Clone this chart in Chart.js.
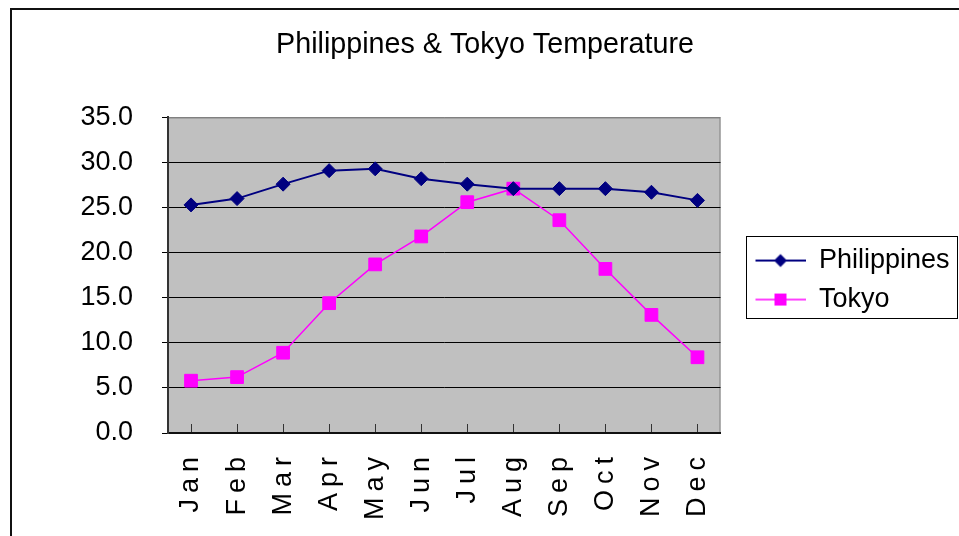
<!DOCTYPE html>
<html>
<head>
<meta charset="utf-8">
<title>Philippines & Tokyo Temperature</title>
<script src="https://cdn.jsdelivr.net/npm/chart.js@4.4.1/dist/chart.umd.min.js"></script>
<style>
    body { margin: 0; background: #fff; overflow: hidden; }
    #frame { position: absolute; left: 10px; top: 8px; width: 1000px; height: 600px; border: 2px solid #111; }
    #wrap { position: absolute; left: 0; top: 0; width: 959px; height: 536px; }
</style>
</head>
<body>
<div id="frame"></div>
<div id="wrap"><canvas id="temp-chart"></canvas></div>
<script>
// Chart data
const months = ['Jan', 'Feb', 'Mar', 'Apr', 'May', 'Jun', 'Jul', 'Aug', 'Sep', 'Oct', 'Nov', 'Dec'];
const philippinesTemps = [25.3, 26.0, 27.6, 29.1, 29.3, 28.2, 27.6, 27.1, 27.1, 27.1, 26.7, 25.8];
const tokyoTemps = [5.8, 6.2, 8.9, 14.4, 18.7, 21.8, 25.6, 27.1, 23.6, 18.2, 13.1, 8.4];
const yTicks = [0, 5, 10, 15, 20, 25, 30, 35];

const FONT = '"Liberation Sans", Arial, sans-serif';

// Category axis that draws its labels with letter spacing (Excel vertical text look)
class SpacedCategoryScale extends Chart.CategoryScale {
    drawLabels(chartArea) {
        this.ctx.save();
        this.ctx.letterSpacing = '6px';
        super.drawLabels(chartArea);
        this.ctx.restore();
    }
}
SpacedCategoryScale.id = 'spacedCategory';
SpacedCategoryScale.defaults = Chart.CategoryScale.defaults;
Chart.register(SpacedCategoryScale);

// Legend icons: line with marker in the middle
function makeLegendIcon(color, marker, lineWidth) {
    const c = document.createElement('canvas');
    c.width = 73;
    c.height = 18;
    const ctx = c.getContext('2d');
    ctx.strokeStyle = color;
    ctx.lineWidth = lineWidth;
    ctx.beginPath();
    ctx.moveTo(23, 9);
    ctx.lineTo(73, 9);
    ctx.stroke();
    ctx.fillStyle = color;
    if (marker === 'diamond') {
        ctx.beginPath();
        ctx.moveTo(48, 2.5);
        ctx.lineTo(54.5, 9);
        ctx.lineTo(48, 15.5);
        ctx.lineTo(41.5, 9);
        ctx.closePath();
        ctx.fill();
    } else {
        ctx.fillRect(42, 3, 12, 12);
    }
    return c;
}
const legendIcons = [
    makeLegendIcon('#000080', 'diamond', 2),
    makeLegendIcon('#FF00FF', 'square', 1.5)
];

// Grey plot area with a grey frame, and a box round the legend
const plotAreaPlugin = {
    id: 'plotArea',
    beforeDraw(chart) {
        const {ctx, chartArea: a} = chart;
        ctx.save();
        ctx.fillStyle = '#C0C0C0';
        ctx.fillRect(a.left, a.top, a.right - a.left, a.bottom - a.top);
        ctx.strokeStyle = '#808080';
        ctx.lineWidth = 1;
        ctx.strokeRect(a.left + 0.5, a.top + 0.5, a.right - a.left - 1, a.bottom - a.top - 1);
        ctx.restore();
    },
    afterDraw(chart) {
        const boxes = chart.legend.legendHitBoxes;
        if (!boxes || !boxes.length) return;
        const ctx = chart.ctx;
        const left = boxes[0].left + 13;
        const right = left + 211;
        const top = boxes[0].top - 11;
        const last = boxes[boxes.length - 1];
        const bottom = last.top + last.height + 5;
        ctx.save();
        ctx.strokeStyle = '#000';
        ctx.lineWidth = 1;
        ctx.strokeRect(Math.round(left) + 0.5, Math.round(top) + 0.5, Math.round(right - left), Math.round(bottom - top));
        ctx.restore();
    }
};

new Chart(document.getElementById('temp-chart'), {
    type: 'line',
    data: {
        labels: months,
        datasets: [{
            label: 'Philippines',
            data: philippinesTemps,
            borderColor: '#000080',
            backgroundColor: '#000080',
            borderWidth: 2,
            pointStyle: 'rectRot',
            pointRadius: 7,
            pointHoverRadius: 7,
            pointBorderWidth: 1,
            tension: 0
        }, {
            label: 'Tokyo',
            data: tokyoTemps,
            borderColor: '#FF00FF',
            backgroundColor: '#FF00FF',
            borderWidth: 1.5,
            pointStyle: 'rect',
            pointRadius: 9,
            pointHoverRadius: 9,
            pointBorderWidth: 1,
            tension: 0
        }]
    },
    options: {
        responsive: true,
        maintainAspectRatio: false,
        animation: false,
        layout: {
            padding: { left: 14, right: 3, top: 0, bottom: 0 }
        },
        scales: {
            x: {
                type: 'spacedCategory',
                offset: true,
                grid: {
                    display: true,
                    drawOnChartArea: false,
                    drawTicks: true,
                    tickLength: -9,
                    color: '#333'
                },
                border: { display: true, color: '#111', width: 2 },
                ticks: {
                    color: '#000',
                    font: { family: FONT, size: 27 },
                    minRotation: 90,
                    maxRotation: 90,
                    autoSkip: false,
                    padding: 27
                },
                afterFit(scale) {
                    scale.height = 103;
                }
            },
            y: {
                min: 0,
                max: 35,
                afterBuildTicks(scale) {
                    scale.ticks = yTicks.map(v => ({ value: v }));
                },
                grid: {
                    color: ctx => (ctx.tick && ctx.tick.value === 35 ? '#808080' : '#000'),
                    tickColor: '#000',
                    tickLength: 6,
                    lineWidth: 1
                },
                border: { display: true, color: '#333', width: 2 },
                ticks: {
                    color: '#000',
                    font: { family: FONT, size: 27 },
                    padding: 29,
                    callback: v => Number(v).toFixed(1)
                },
                afterFit(scale) {
                    scale.width = 154;
                }
            }
        },
        plugins: {
            title: {
                display: true,
                text: 'Philippines & Tokyo Temperature',
                color: '#000',
                font: { family: FONT, size: 28.7, weight: 'normal', lineHeight: 1.2 },
                padding: { top: 28, bottom: 55 }
            },
            legend: {
                position: 'right',
                fullSize: false,
                title: {
                    display: true,
                    text: '',
                    font: { size: 8 },
                    padding: 0
                },
                labels: {
                    color: '#000',
                    font: { family: FONT, size: 27 },
                    usePointStyle: true,
                    pointStyleWidth: 73,
                    padding: 12,
                    generateLabels(chart) {
                        const items = Chart.defaults.plugins.legend.labels.generateLabels(chart);
                        items.forEach((item, i) => { item.pointStyle = legendIcons[i]; });
                        return items;
                    }
                }
            },
            tooltip: { enabled: false }
        }
    },
    plugins: [plotAreaPlugin]
});
</script>
</body>
</html>
